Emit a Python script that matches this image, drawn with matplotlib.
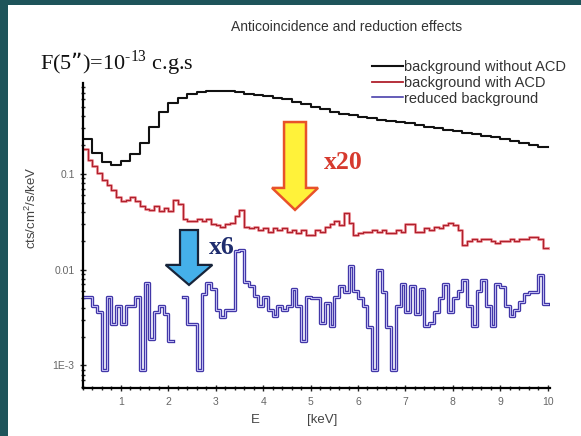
import numpy as np
import matplotlib
matplotlib.use("Agg")
import matplotlib.pyplot as plt
from matplotlib.patches import Rectangle, FancyArrow
from matplotlib.ticker import FixedLocator, FixedFormatter, LogLocator, MultipleLocator, NullFormatter

plt.rcParams['font.family'] = ['Liberation Sans', 'DejaVu Sans']

# energy bins [keV]
black_edges = np.linspace(0.2, 10.0, 50)
fine_edges = np.linspace(0.2, 10.0, 99)

# background without ACD (0.2 keV bins)
bkg_no_acd = [0.23, 0.165, 0.132, 0.125, 0.135, 0.16, 0.21, 0.31, 0.44, 0.55,
              0.62, 0.68, 0.72, 0.735, 0.74, 0.73, 0.71, 0.69, 0.67, 0.645,
              0.625, 0.60, 0.565, 0.535, 0.50, 0.475, 0.445, 0.425, 0.41, 0.395,
              0.38, 0.365, 0.355, 0.345, 0.34, 0.325, 0.31, 0.30, 0.29, 0.28,
              0.27, 0.258, 0.25, 0.24, 0.232, 0.22, 0.21, 0.20, 0.19]

# background with ACD (0.1 keV bins)
bkg_acd = [0.18, 0.14, 0.12, 0.102, 0.087, 0.077, 0.068, 0.058, 0.052, 0.053,
           0.058, 0.052, 0.046, 0.043, 0.042, 0.046, 0.041, 0.044, 0.041, 0.053,
           0.049, 0.034, 0.032, 0.032, 0.034, 0.032, 0.034, 0.030, 0.029, 0.028,
           0.030, 0.031, 0.036, 0.042, 0.028, 0.027, 0.028, 0.026, 0.027, 0.025,
           0.027, 0.026, 0.027, 0.025, 0.026, 0.024, 0.026, 0.023, 0.023, 0.026,
           0.025, 0.028, 0.030, 0.032, 0.029, 0.039, 0.031, 0.023, 0.024, 0.025,
           0.025, 0.026, 0.025, 0.026, 0.024, 0.024, 0.026, 0.025, 0.030, 0.030,
           0.025, 0.025, 0.027, 0.026, 0.028, 0.027, 0.029, 0.031, 0.029, 0.026,
           0.018, 0.020, 0.021, 0.020, 0.021, 0.021, 0.020, 0.019, 0.020, 0.020,
           0.021, 0.020, 0.021, 0.021, 0.022, 0.022, 0.021, 0.017]

# reduced background (0.1 keV bins)
nan = np.nan
bkg_reduced = [0.0052, 0.0052, 0.0042, 0.0036, 0.0009, 0.0052, 0.0027, 0.0042, 0.0027, 0.0042,
               0.0042, 0.0052, 0.0009, 0.0072, 0.0019, 0.0036, 0.0042, 0.0034, 0.0018, nan,
               nan, 0.0052, 0.0027, 0.0027, 0.0009, 0.0055, 0.0072, 0.0062, 0.0038, 0.0032,
               0.0038, 0.0038, 0.0155, 0.016, 0.0075, 0.0068, 0.0053, 0.0042, 0.0052, 0.0038,
               0.0033, 0.0042, 0.0038, 0.0042, 0.0062, 0.0042, 0.0018, 0.0052, 0.005, 0.005,
               0.0028, 0.0045, 0.0026, 0.0052, 0.0068, 0.0058, 0.011, 0.006, 0.005, 0.0042,
               0.0025, 0.0009, 0.0098, 0.0058, 0.0025, 0.0009, 0.0042, 0.007, 0.0036, 0.0068,
               0.0034, 0.0062, 0.0026, 0.0028, 0.0036, 0.005, 0.007, 0.0036, 0.005, 0.006,
               0.0078, 0.0042, 0.0026, 0.006, 0.0078, 0.0042, 0.0026, 0.007, 0.0066, 0.0042,
               0.0033, 0.0038, 0.0046, 0.0055, 0.0058, 0.0058, 0.0087, 0.0044]

labels = ['background without ACD', 'background with ACD', 'reduced background']


def steps(edges, vals):
    return edges, np.append(vals, vals[-1])


fig = plt.figure(figsize=(5.81, 4.36), dpi=100)
fig.patch.set_facecolor('#1e545a')
fig.add_artist(Rectangle((8 / 581, 0), 1, 1 - 5 / 436, transform=fig.transFigure,
                         facecolor='white', edgecolor='none', zorder=0))

ax = fig.add_axes([83 / 581, 1 - 388 / 436, 467 / 581, 305 / 436])
ax.set_facecolor('white')

x, y = steps(black_edges, bkg_no_acd)
ax.step(x, y, where='post', color='#111111', lw=1.5, label=labels[0])
x, y = steps(fine_edges, bkg_acd)
ax.step(x, y, where='post', color='#f0a0a6', lw=2.2)
ax.step(x, y, where='post', color='#b0202c', lw=0.9, label=labels[1])
x, y = steps(fine_edges, bkg_reduced)
ax.step(x, y, where='post', color='#3b30a4', lw=2.4, label=labels[2])
ax.step(x, y, where='post', color='#bdb8f0', lw=0.8)

ax.set_yscale('log')
ax.set_ylim(5.8e-4, 0.89)
ax.set_xlim(0.2, 10.05)

ax.xaxis.set_major_locator(FixedLocator(range(1, 11)))
ax.xaxis.set_minor_locator(MultipleLocator(0.2))
ax.yaxis.set_major_locator(FixedLocator([1e-3, 1e-2, 1e-1]))
ax.yaxis.set_major_formatter(FixedFormatter(['1E-3', '0.01', '0.1']))
ax.yaxis.set_minor_locator(LogLocator(base=10, subs=np.arange(2, 10)))
ax.yaxis.set_minor_formatter(NullFormatter())
ax.tick_params(which='both', direction='inout', width=1, labelsize=7.5,
               labelcolor='#666666', color='#222222')
ax.tick_params(which='major', length=5)
ax.tick_params(which='minor', length=3)
ax.tick_params(axis='x', pad=4)
for s in ['top', 'right']:
    ax.spines[s].set_visible(False)
for s in ['left', 'bottom']:
    ax.spines[s].set_linewidth(1.6)

leg = ax.legend(loc='upper left', bbox_to_anchor=(372 / 581, 1 - 60 / 436),
                bbox_transform=fig.transFigure, frameon=False, fontsize=10.5,
                handlelength=2.1, handletextpad=0.1, labelspacing=0.12,
                borderpad=0, borderaxespad=0)
for t in leg.get_texts():
    t.set_color('#333333')
for line, lw in zip(leg.get_lines(), [1.5, 1.3, 1.1]):
    line.set_linewidth(lw)

# arrows
ax.add_patch(FancyArrow(0.454, 0.872, 0, -0.288, width=0.047, head_width=0.0985,
                        head_length=0.072, length_includes_head=True,
                        transform=ax.transAxes, facecolor='#fff23a',
                        edgecolor='#e8522a', lw=1.8, zorder=5))
ax.add_patch(FancyArrow(0.227, 0.518, 0, -0.18, width=0.0385, head_width=0.10,
                        head_length=0.0656, length_includes_head=True,
                        transform=ax.transAxes, facecolor='#45b0ea',
                        edgecolor='#17243a', lw=1.6, zorder=5))
ax.text(0.557, 0.738, 'x20', transform=ax.transAxes, fontsize=18.5, fontweight='bold',
        family='Liberation Serif', color='#d63a2e', ha='center', va='center')
ax.text(0.298, 0.462, 'x6', transform=ax.transAxes, fontsize=18.5, fontweight='bold',
        family='Liberation Serif', color='#1f2d6e', ha='center', va='center')

fig.text(347 / 581, 1 - 27 / 436, 'Anticoincidence and reduction effects',
         fontsize=10, color='#333333', ha='center', va='center')
fig.text(40 / 581, 1 - 70 / 436, 'F(5”)=10$^{\\mathregular{\u201013}}$ c.g.s',
         family='Liberation Serif', fontsize=16, color='#111111', va='baseline')
fig.text(31 / 581, 1 - 208 / 436, 'cts/cm$^{\\mathregular{2}}$/s/keV', rotation=90,
         fontsize=9.5, color='#444444', ha='center', va='center')
fig.text(255 / 581, 1 - 420 / 436, 'E', fontsize=9.5, color='#444444', ha='center', va='center')
fig.text(322 / 581, 1 - 420 / 436, '[keV]', fontsize=9.5, color='#444444', ha='center', va='center')

fig.savefig('out.png', dpi=100, facecolor=fig.get_facecolor())
